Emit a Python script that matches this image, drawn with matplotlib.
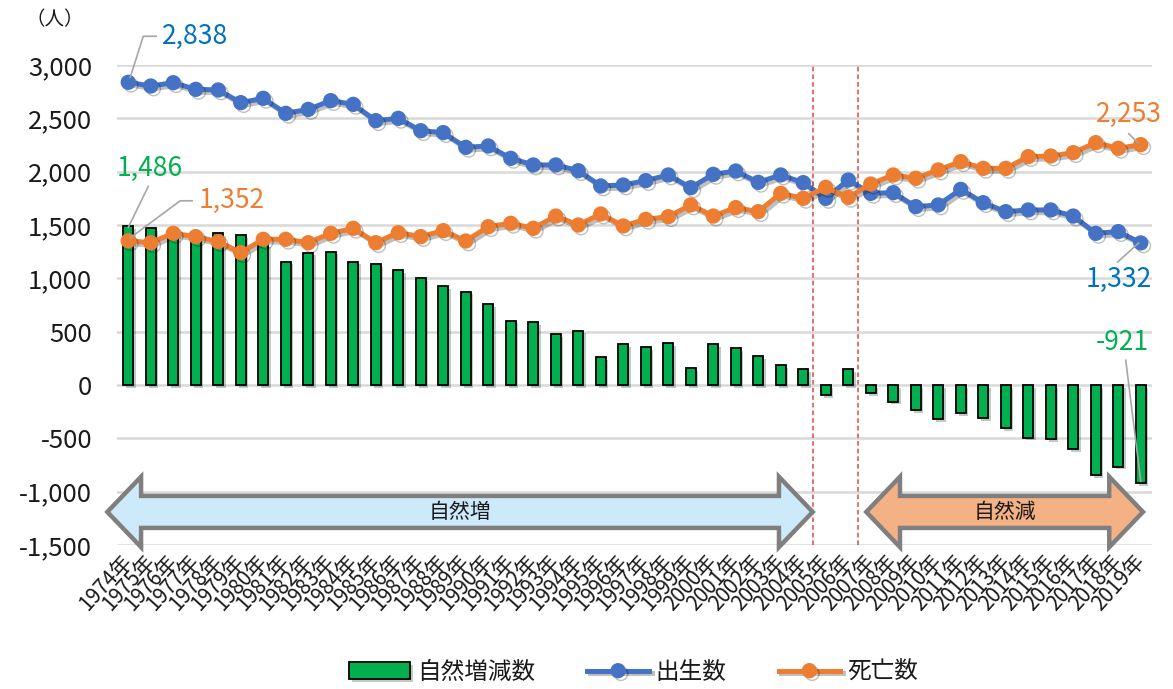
import numpy as np
import matplotlib
matplotlib.use("Agg")
import matplotlib.pyplot as plt
import matplotlib.patheffects as pe
from matplotlib.patches import Polygon
from matplotlib.lines import Line2D
from matplotlib.transforms import IdentityTransform

plt.rcParams['font.family'] = ['Noto Sans CJK JP', 'DejaVu Sans']

# データ（1974年～2019年）
years = [f"{y}年" for y in range(1974, 2020)]
births = [2838, 2803, 2834, 2772, 2766, 2647, 2688, 2547, 2584, 2666,
          2631, 2478, 2500, 2384, 2366, 2228, 2241, 2125, 2063, 2063,
          2009, 1866, 1875, 1916, 1969, 1850, 1975, 2006, 1900, 1969,
          1897, 1750, 1922, 1797, 1803, 1672, 1688, 1834, 1709, 1625,
          1641, 1641, 1584, 1422, 1438, 1332]
deaths = [1352, 1334, 1422, 1391, 1344, 1241, 1366, 1366, 1334, 1422,
          1469, 1334, 1428, 1391, 1447, 1350, 1484, 1516, 1469, 1584,
          1500, 1603, 1491, 1553, 1578, 1688, 1584, 1663, 1625, 1797,
          1750, 1853, 1759, 1884, 1969, 1938, 2016, 2094, 2031, 2031,
          2141, 2147, 2178, 2272, 2219, 2253]
natural = [1486, 1469, 1412, 1381, 1422, 1406, 1322, 1156, 1241, 1250,
           1156, 1134, 1078, 1000, 928, 875, 756, 603, 588, 478,
           509, 259, 384, 353, 391, 156, 384, 344, 272, 184,
           150, -94, 147, -78, -156, -234, -322, -266, -313, -406,
           -494, -509, -600, -844, -766, -921]

C_BAR = '#00b050'
C_BIRTH = '#4472c4'
C_DEATH = '#ed7d31'
C_LBL_BIRTH = '#0070c0'

fig = plt.figure(figsize=(11.73, 6.89), dpi=100)
ax = fig.add_axes([117/1173, 1-545/689, (1152-117)/1173, (545-65)/689])

x = np.arange(len(years))
shadow_line = [pe.SimpleLineShadow(offset=(2, -2), alpha=0.25), pe.Normal()]
shadow_bar = [pe.SimplePatchShadow(offset=(2, -2), alpha=0.25), pe.Normal()]

b = ax.bar(x, natural, width=0.44, color=C_BAR, edgecolor='black', linewidth=1.3,
           zorder=2, path_effects=shadow_bar, label='自然増減数')
l1, = ax.plot(x, births, color=C_BIRTH, lw=3.6, marker='o', ms=10, zorder=3,
              path_effects=shadow_line, label='出生数')
l2, = ax.plot(x, deaths, color=C_DEATH, lw=3.6, marker='o', ms=10, zorder=4,
              path_effects=shadow_line, label='死亡数')

ax.set_xlim(-0.5, len(years) - 0.5)
ax.set_ylim(-1500, 3000)
ax.set_yticks(np.arange(-1500, 3001, 500))
ax.yaxis.set_major_formatter(matplotlib.ticker.FuncFormatter(lambda v, p: f"{int(v):,}"))
ax.grid(axis='y', color='#d9d9d9', lw=1.8, zorder=0)
ax.set_axisbelow(True)
for s in ax.spines.values():
    s.set_visible(False)
ax.tick_params(axis='y', length=0, labelsize=18.5, pad=18, labelcolor='#1a1a1a')
ax.set_xticks(x)
ax.set_xticklabels(years, rotation=48, ha='right', va='center',
                   rotation_mode='anchor', fontsize=15, color='#1a1a1a')
ax.tick_params(axis='x', length=0, pad=9)

fig.text(55/1173, 1-20/689, '（人）', fontsize=14, ha='center', va='center', color='#1a1a1a')

# 赤い点線（2005年・2007年の境）
for xv in [30.42, 32.42]:
    ax.axvline(xv, color='#e04848', ls=(0, (3, 2)), lw=1.1, zorder=1)


# 両矢印
def double_arrow(x0, x1, yc, body, head, hl, fc, text):
    pts = [(x0, yc), (x0 + hl, yc + head), (x0 + hl, yc + body),
           (x1 - hl, yc + body), (x1 - hl, yc + head), (x1, yc),
           (x1 - hl, yc - head), (x1 - hl, yc - body), (x0 + hl, yc - body),
           (x0 + hl, yc - head)]
    ax.add_patch(Polygon(pts, closed=True, facecolor=fc, edgecolor='#7f7f7f',
                         lw=3.2, joinstyle='miter', zorder=5, clip_on=False))
    ax.text((x0 + x1) / 2, yc, text, ha='center', va='center', fontsize=15,
            color='#1a1a1a', zorder=6)


double_arrow(-0.93, 30.42, -1190, 150, 330, 1.5, '#cdeafb', '自然増')
double_arrow(32.8, 45.1, -1190, 150, 330, 1.5, '#f4b183', '自然減')

# データラベル（引出線つき）
fig.canvas.draw()


def label(i, v, path, txt, toff, color, ha):
    px, py = ax.transData.transform((i, v))
    xs = [px + dx for dx, dy in path]
    ys = [py + dy for dx, dy in path]
    fig.add_artist(Line2D(xs, ys, transform=IdentityTransform(), color='#a6a6a6', lw=1.2, zorder=7))
    fig.text((px + toff[0]) / 1173, (py + toff[1]) / 689, txt, ha=ha, va='center',
             fontsize=19, color=color, transform=fig.transFigure)


label(0, births[0], [(2, 5), (15, 46), (28, 46)], f"{births[0]:,}", (34, 46), C_LBL_BIRTH, 'left')
label(0, natural[0], [(0, -1), (20, 40)], f"{natural[0]:,}", (21, 58), C_BAR, 'center')
label(0, deaths[0], [(2, 3), (52, 40), (64, 40)], f"{deaths[0]:,}", (70, 40), C_DEATH, 'left')
label(45, deaths[-1], [(-3, 2), (-12, 11)], f"{deaths[-1]:,}", (-12, 30), C_DEATH, 'center')
label(45, births[-1], [(-2, 0), (-23, -19)], f"{births[-1]:,}", (-22, -37), C_LBL_BIRTH, 'center')
label(45, natural[-1], [(0, 2), (-15, 123)], f"{natural[-1]:,}", (-18, 141), C_BAR, 'center')

leg = fig.legend([b, l1, l2], ['自然増減数', '出生数', '死亡数'], loc='center',
                 bbox_to_anchor=(0.54, 0.024), ncol=3, frameon=False,
                 fontsize=17, handlelength=2.6, handletextpad=0.3, columnspacing=2.2)
for t in leg.get_texts():
    t.set_color('#1a1a1a')

fig.savefig('out.png', dpi=100)
